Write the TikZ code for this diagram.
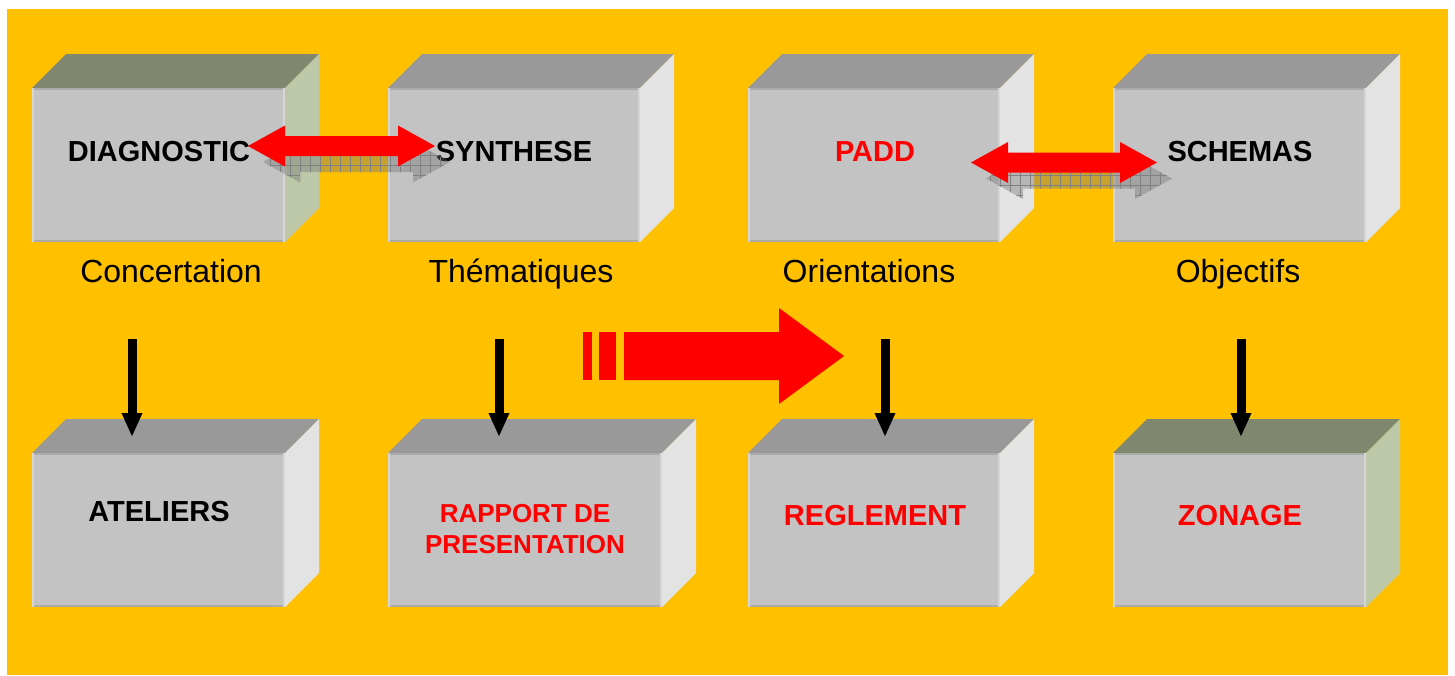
\documentclass[tikz,border=0pt]{standalone}
\usepackage{fontspec}
\setmainfont{Liberation Sans}
\usetikzlibrary{arrows.meta,patterns.meta}
\definecolor{bgorange}{HTML}{FFC000}
\definecolor{frontgray}{HTML}{C3C3C3}
\definecolor{topgray}{HTML}{999999}
\definecolor{sidegray}{HTML}{E3E3E3}
\definecolor{topolive}{HTML}{80876F}
\definecolor{sidegreen}{HTML}{BDC8A8}
\definecolor{edgedark}{HTML}{ABABAB}
\definecolor{edgelight}{HTML}{D6D6D6}
\definecolor{pured}{HTML}{FF0000}
\definecolor{shadowgray}{HTML}{737373}
\tikzset{
  front/.style={fill=frontgray, inner sep=0pt, outer sep=0pt},
  boldlbl/.style={font=\fontsize{29}{34}\selectfont\bfseries, anchor=base, inner sep=0pt},
  smalllbl/.style={font=\fontsize{26}{31}\selectfont\bfseries, anchor=base, inner sep=0pt, text=pured},
  sublbl/.style={font=\fontsize{32}{38}\selectfont, anchor=base, inner sep=0pt},
  downarrow/.style={line width=9pt, -{Triangle[width=19pt,length=24pt]}},
  redfill/.style={fill=pured},
  shadowfill/.style={fill=shadowgray, fill opacity=0.4},
  shadowgrid/.style={pattern={Lines[distance=10pt,line width=0.5pt,angle=#1]}, pattern color=black!50, fill opacity=0.15}
}
% name, x1, y1, x2, y2, top colour, side colour
\newcommand\cubebox[7]{%
  \fill[#6] (#2,#3) -- ({#2+34},{#3-34}) -- ({#4+34},{#3-34}) -- (#4,#3) -- cycle;
  \fill[#7] (#4,#3) -- ({#4+34},{#3-34}) -- ({#4+34},{#5-34}) -- (#4,#5) -- cycle;
  \node[front, minimum width={#4-#2}, minimum height={#5-#3}] (#1) at ({(#2+#4)/2},{(#3+#5)/2}) {};
  \draw[edgedark, line width=2pt] ([yshift=-1pt]#1.north west) -- ([yshift=-1pt]#1.north east);
  \draw[edgedark, line width=2pt] ([yshift=1pt]#1.south west) -- ([yshift=1pt]#1.south east);
  \draw[edgelight, line width=2pt] ([xshift=1pt]#1.north west) -- ([xshift=1pt]#1.south west);
  \draw[edgelight, line width=2pt] ([xshift=-1pt]#1.north east) -- ([xshift=-1pt]#1.south east);
}
% style, left tip x, right tip x, centre y
\newcommand\dblarrow[4]{%
  \fill[#1] (#2,#4) -- ({#2+37},{#4-20.5}) -- ({#2+37},{#4-10}) -- ({#3-37},{#4-10})
    -- ({#3-37},{#4-20.5}) -- (#3,#4) -- ({#3-37},{#4+20.5}) -- ({#3-37},{#4+10})
    -- ({#2+37},{#4+10}) -- ({#2+37},{#4+20.5}) -- cycle;
}
\begin{document}
\begin{tikzpicture}[x=1pt, y=-1pt]
\useasboundingbox (0,0) rectangle (1455,675);
\fill[white] (0,0) rectangle (1455,675);
\fill[bgorange] (7,9) rectangle (1448,675);

% boxes
\cubebox{diag}{32}{88}{285}{242}{topolive}{sidegreen}
\cubebox{synth}{388}{88}{640}{242}{topgray}{sidegray}
\cubebox{padd}{748}{88}{1000}{242}{topgray}{sidegray}
\cubebox{schem}{1113}{88}{1366}{242}{topgray}{sidegray}
\cubebox{atel}{32}{453}{285}{607}{topgray}{sidegray}
\cubebox{rapp}{388}{453}{662}{607}{topgray}{sidegray}
\cubebox{regl}{748}{453}{1000}{607}{topgray}{sidegray}
\cubebox{zona}{1113}{453}{1366}{607}{topolive}{sidegreen}

% box texts
\node[boldlbl] (tdiag) at (159,161) {DIAGNOSTIC};
\node[boldlbl] (tsynth) at (514,161) {SYNTHESE};
\node[boldlbl, text=pured] (tpadd) at (875,161) {PADD};
\node[boldlbl] (tschem) at (1240,161) {SCHEMAS};
\node[boldlbl] (tatel) at (159,521) {ATELIERS};
\node[smalllbl] (trapp1) at (525,522) {RAPPORT DE};
\node[smalllbl] (trapp2) at (525,553) {PRESENTATION};
\node[boldlbl, text=pured] (tregl) at (875,525) {REGLEMENT};
\node[boldlbl, text=pured] (tzona) at (1240,525) {ZONAGE};

% labels under the top boxes
\node[sublbl] (lconc) at (171,282) {Concertation};
\node[sublbl] (lthem) at (521,282) {Thématiques};
\node[sublbl] (lorie) at (869,282) {Orientations};
\node[sublbl] (lobje) at (1238,282) {Objectifs};

% double arrows with shadows
\dblarrow{shadowfill}{263}{450}{162}
\dblarrow{shadowgrid=0}{263}{450}{162}
\dblarrow{shadowgrid=90}{263}{450}{162}
\dblarrow{redfill}{248}{435}{146}

\dblarrow{shadowfill}{986}{1172}{178.5}
\dblarrow{shadowgrid=0}{986}{1172}{178.5}
\dblarrow{shadowgrid=90}{986}{1172}{178.5}
\dblarrow{redfill}{971}{1157}{162.5}

% big red arrow
\fill[pured] (583,332) rectangle (592,380);
\fill[pured] (599,332) rectangle (616,380);
\fill[pured] (624,332) -- (779,332) -- (779,308) -- (844,356) -- (779,404) -- (779,380) -- (624,380) -- cycle;

% black down arrows
\coordinate (s1) at (132,339); \coordinate (e1) at (132,437);
\coordinate (s2) at (499,339); \coordinate (e2) at (499,437);
\coordinate (s3) at (885,339); \coordinate (e3) at (885,437);
\coordinate (s4) at (1241,339); \coordinate (e4) at (1241,437);
\draw[downarrow] (s1) -- (e1);
\draw[downarrow] (s2) -- (e2);
\draw[downarrow] (s3) -- (e3);
\draw[downarrow] (s4) -- (e4);
\end{tikzpicture}
\end{document}
